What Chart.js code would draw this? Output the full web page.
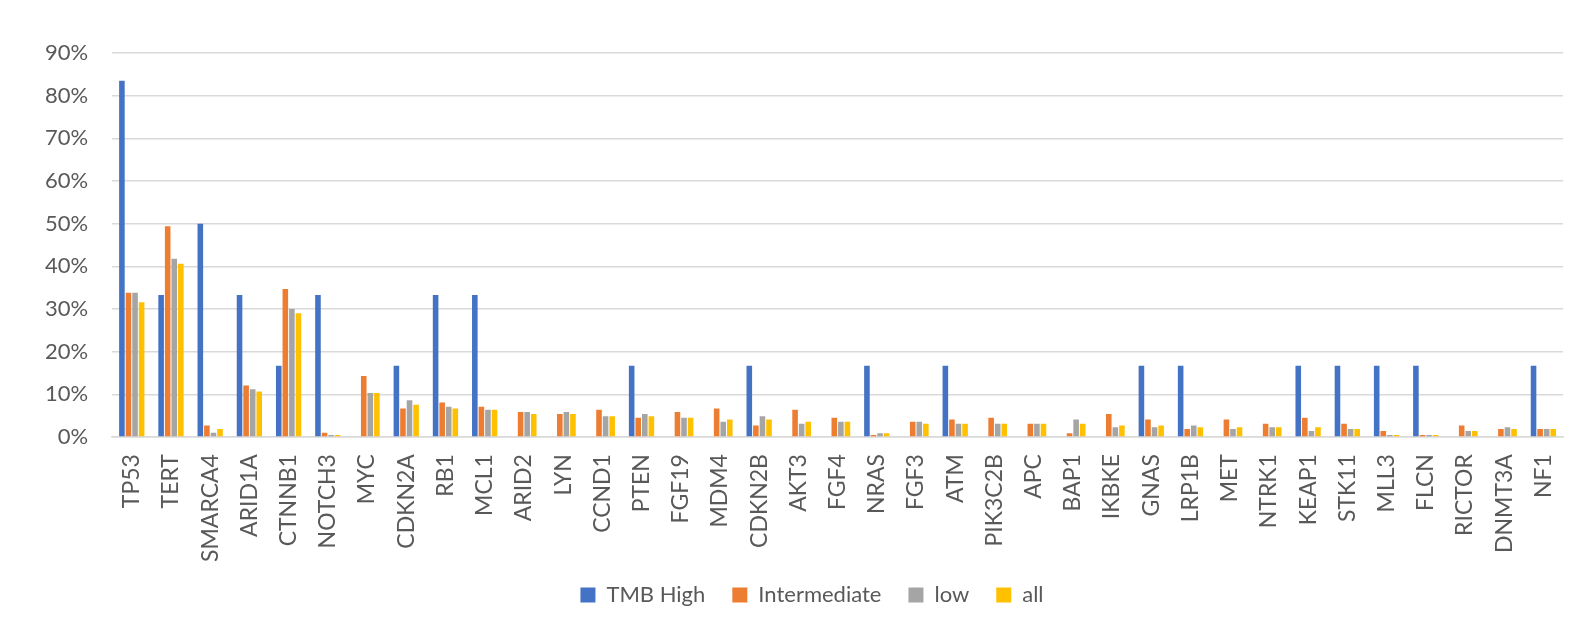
<!DOCTYPE html>
<html>
<head>
<meta charset="utf-8">
<script src="https://cdn.jsdelivr.net/npm/chart.js@4/dist/chart.umd.min.js"></script>
<style>
  html, body { margin: 0; padding: 0; background: #fff; }
  #wrap { width: 1579px; height: 624px; }
</style>
</head>
<body>
<div id="wrap"><canvas id="geneChart"></canvas></div>
<script>
// Genes on the x axis
const genes = ['TP53', 'TERT', 'SMARCA4', 'ARID1A', 'CTNNB1', 'NOTCH3', 'MYC', 'CDKN2A', 'RB1', 'MCL1',
    'ARID2', 'LYN', 'CCND1', 'PTEN', 'FGF19', 'MDM4', 'CDKN2B', 'AKT3', 'FGF4', 'NRAS',
    'FGF3', 'ATM', 'PIK3C2B', 'APC', 'BAP1', 'IKBKE', 'GNAS', 'LRP1B', 'MET', 'NTRK1',
    'KEAP1', 'STK11', 'MLL3', 'FLCN', 'RICTOR', 'DNMT3A', 'NF1'];

// Frequencies in percent
const tmbHigh = [83.5, 33.3, 50, 33.3, 16.7, 33.3, 0, 16.7, 33.3, 33.3,
    0, 0, 0, 16.7, 0, 0, 16.7, 0, 0, 16.7,
    0, 16.7, 0, 0, 0, 0, 16.7, 16.7, 0, 0,
    16.7, 16.7, 16.7, 16.7, 0, 0, 16.7];
const intermediate = [33.8, 49.4, 2.7, 12.1, 34.7, 1.0, 14.3, 6.7, 8.1, 7.1,
    5.9, 5.4, 6.4, 4.5, 5.9, 6.7, 2.7, 6.4, 4.5, 0.5,
    3.6, 4.1, 4.5, 3.1, 0.9, 5.4, 4.1, 1.9, 4.1, 3.1,
    4.5, 3.1, 1.4, 0.5, 2.7, 1.9, 1.9];
const low = [33.8, 41.8, 1.0, 11.2, 30.0, 0.5, 10.3, 8.6, 7.1, 6.4,
    5.9, 5.9, 4.9, 5.4, 4.5, 3.6, 4.9, 3.1, 3.6, 0.9,
    3.6, 3.1, 3.1, 3.1, 4.1, 2.3, 2.3, 2.7, 1.9, 2.3,
    1.4, 1.9, 0.5, 0.5, 1.4, 2.3, 1.9];
const all = [31.6, 40.6, 1.9, 10.7, 29.0, 0.5, 10.3, 7.6, 6.7, 6.4,
    5.4, 5.4, 4.9, 4.9, 4.5, 4.1, 4.1, 3.6, 3.6, 0.9,
    3.1, 3.1, 3.1, 3.1, 3.1, 2.7, 2.7, 2.3, 2.3, 2.3,
    2.3, 1.9, 0.5, 0.5, 1.4, 1.9, 1.9];

const yTicks = [0, 10, 20, 30, 40, 50, 60, 70, 80, 90];

const textColor = '#595959';
const gridColor = '#d9d9d9';
const fontFamily = 'Lato, "Open Sans", sans-serif';

function makeSet(label, data, color) {
    return {
        label: label,
        data: data,
        backgroundColor: color,
        borderWidth: 0,
        categoryPercentage: 0.67,
        barPercentage: 0.85
    };
}

// nudge the legend a bit right/up, like the original
const legendNudge = {
    id: 'legendNudge',
    afterLayout(chart) {
        const lg = chart.legend;
        if (!lg) return;
        lg.left += 40;
        lg.top -= 7;
        lg.bottom -= 7;
    }
};

const ctx = document.getElementById('geneChart');

new Chart(ctx, {
    type: 'bar',
    data: {
        labels: genes,
        datasets: [
            makeSet('TMB High', tmbHigh, '#4472c4'),
            makeSet('Intermediate', intermediate, '#ed7d31'),
            makeSet('low', low, '#a5a5a5'),
            makeSet('all', all, '#ffc000')
        ]
    },
    plugins: [legendNudge],
    options: {
        responsive: true,
        maintainAspectRatio: false,
        animation: false,
        layout: {
            padding: { left: 21, right: 16, top: 53, bottom: 1 }
        },
        plugins: {
            legend: {
                position: 'bottom',
                labels: {
                    color: textColor,
                    font: { family: fontFamily, size: 22 },
                    boxWidth: 15,
                    boxHeight: 15,
                    padding: 27
                }
            },
            tooltip: { enabled: false }
        },
        scales: {
            x: {
                grid: { display: false, drawTicks: false },
                border: { color: gridColor, width: 1.5 },
                afterFit: function (scale) {
                    scale.paddingLeft = 0;
                    scale.paddingRight = 0;
                    scale.height -= 15;
                },
                ticks: {
                    color: textColor,
                    font: { family: fontFamily, size: 23 },
                    minRotation: 90,
                    maxRotation: 90,
                    padding: 17,
                    autoSkip: false
                }
            },
            y: {
                min: 0,
                max: 90,
                afterBuildTicks: function (axis) {
                    axis.ticks = yTicks.map(v => ({ value: v }));
                },
                grid: { color: gridColor, lineWidth: 1.5, drawTicks: false },
                border: { display: false },
                ticks: {
                    color: textColor,
                    font: { family: fontFamily, size: 22 },
                    padding: 24,
                    callback: function (value) {
                        return value + '%';
                    }
                }
            }
        }
    }
});
</script>
</body>
</html>
